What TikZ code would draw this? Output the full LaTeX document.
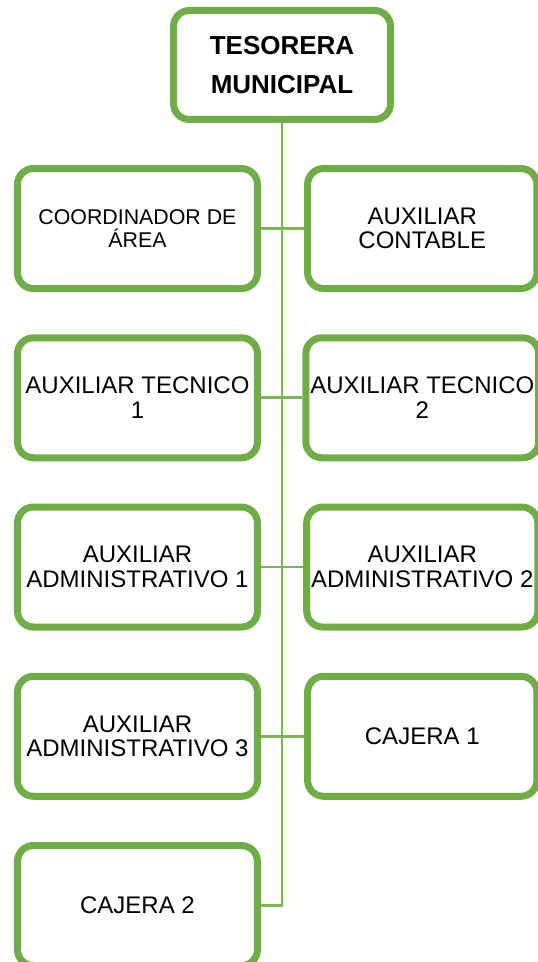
\documentclass[tikz,border=0pt]{standalone}
\usepackage{fontspec}
\setmainfont{Liberation Sans}
\usetikzlibrary{shapes.geometric, arrows}
\definecolor{verde}{HTML}{70AD47}
\tikzstyle{jefe} = [rectangle, rounded corners=12pt, minimum width=162.75pt, minimum height=81.75pt,text  centered, draw=verde, line width=5.25pt, fill=white, font=\fontsize{19.5}{29}\selectfont\bfseries]
\tikzstyle{puesto} = [rectangle, rounded corners=12pt, minimum width=180pt, minimum height=90pt,text  centered, draw=verde, line width=5.25pt, fill=white, font=\fontsize{18}{18.5}\selectfont]
\tikzstyle{puestod} = [puesto, minimum width=172pt]
\tikzstyle{linea} = [line width=2pt, color=verde!90]

\begin{document}
\begin{tikzpicture}[node distance=126.94pt]
\useasboundingbox (0,0) rectangle (403.5pt,-721.5pt);

\node (tesorera) [jefe, align=flush center] at (211.5pt,-48.75pt) {TESORERA\\MUNICIPAL};

\node (coordinador) [puesto, align=flush center, below of=tesorera, xshift=-108.4pt, yshift=4.3pt, font=\fontsize{16}{17}\selectfont] {COORDINADOR DE\\ÁREA};
\node (contable) [puestod, align=flush center, below of=tesorera, xshift=105.2pt, yshift=4.3pt] {AUXILIAR\\CONTABLE};

\node (tecnico1) [puesto, align=flush center, below of=coordinador] {AUXILIAR TECNICO\\1};
\node (tecnico2) [puestod, align=flush center, below of=contable] {AUXILIAR TECNICO\\2};

\node (admin1) [puesto, align=flush center, below of=tecnico1] {AUXILIAR\\ADMINISTRATIVO 1};
\node (admin2) [puestod, align=flush center, below of=tecnico2] {AUXILIAR\\ADMINISTRATIVO 2};

\node (admin3) [puesto, align=flush center, below of=admin1] {AUXILIAR\\ADMINISTRATIVO 3};
\node (cajera1) [puestod, align=flush center, below of=admin2] {CAJERA 1};

\node (cajera2) [puesto, align=flush center, below of=admin3] {CAJERA 2};


\draw [linea] (tesorera) |- (cajera2);
\draw [linea] (coordinador) -- (contable);
\draw [linea] (tecnico1) -- (tecnico2);
\draw [linea] (admin1) -- (admin2);
\draw [linea] (admin3) -- (cajera1);

\end{tikzpicture}
\end{document}
